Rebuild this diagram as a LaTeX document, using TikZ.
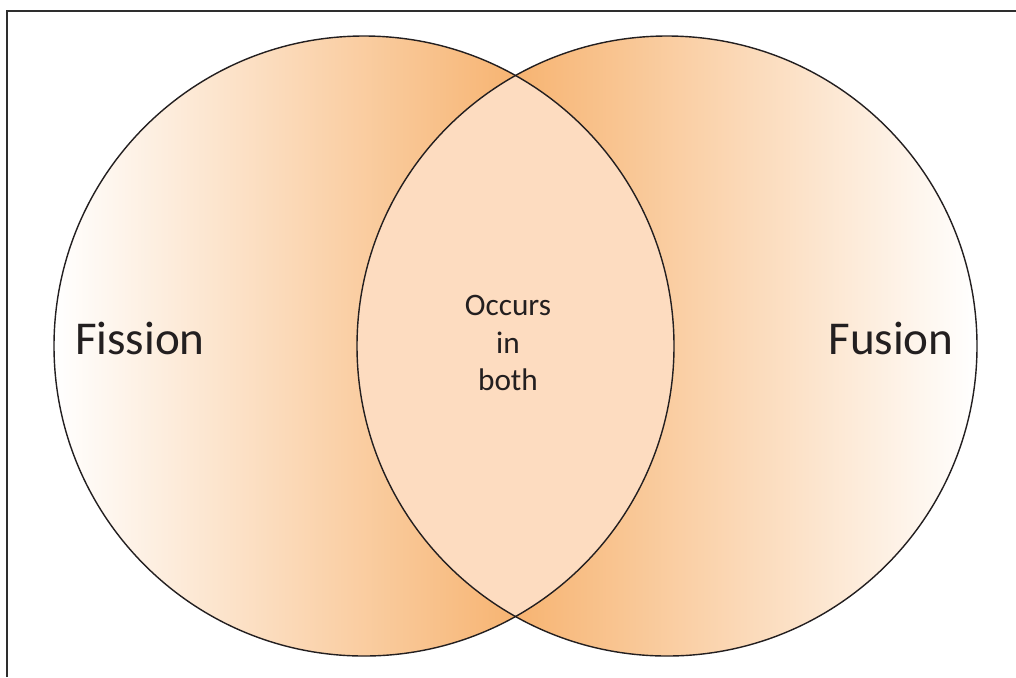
\documentclass[tikz,border=0pt]{standalone}
\usepackage{fontspec}
\setmainfont{Carlito}
\definecolor{deep}{HTML}{F7B472}
\definecolor{lens}{HTML}{FDDCC0}
\definecolor{ink}{HTML}{231F20}
\definecolor{framec}{HTML}{2E2E2E}
\tikzset{
  ring/.style={draw=ink,line width=0.8pt},
  bigtext/.style={font=\fontsize{26.8}{31}\selectfont,text=ink,inner sep=0pt},
  midtext/.style={font=\fontsize{17.8}{21.5}\selectfont,text=ink,align=center,inner sep=0pt}
}
\begin{document}
\begin{tikzpicture}[x=0.02cm,y=-0.02cm]
\useasboundingbox (0,0) rectangle (1016,677);
\coordinate (L) at (364,346);
\coordinate (R) at (667,346);
% left circle gradient
\begin{scope}
  \clip (L) circle[radius=310];
  \shade[left color=white,right color=deep] (54,30) rectangle (516,662);
\end{scope}
% right circle gradient
\begin{scope}
  \clip (R) circle[radius=310];
  \shade[left color=deep,right color=white] (516,30) rectangle (977,662);
\end{scope}
% lens
\begin{scope}
  \clip (L) circle[radius=310];
  \fill[lens] (R) circle[radius=310];
\end{scope}
\draw[ring] (L) circle[radius=310];
\draw[ring] (R) circle[radius=310];
% frame
\draw[framec,line width=1.4pt] (7,677) -- (7,11) -- (1016,11);
% labels
\node[bigtext,anchor=base] (fission) at (140,354) {Fission};
\node[bigtext,anchor=base] (fusion) at (891,354) {Fusion};
\node[midtext] (both) at (508,343) {Occurs\\in\\both};
\end{tikzpicture}
\end{document}
